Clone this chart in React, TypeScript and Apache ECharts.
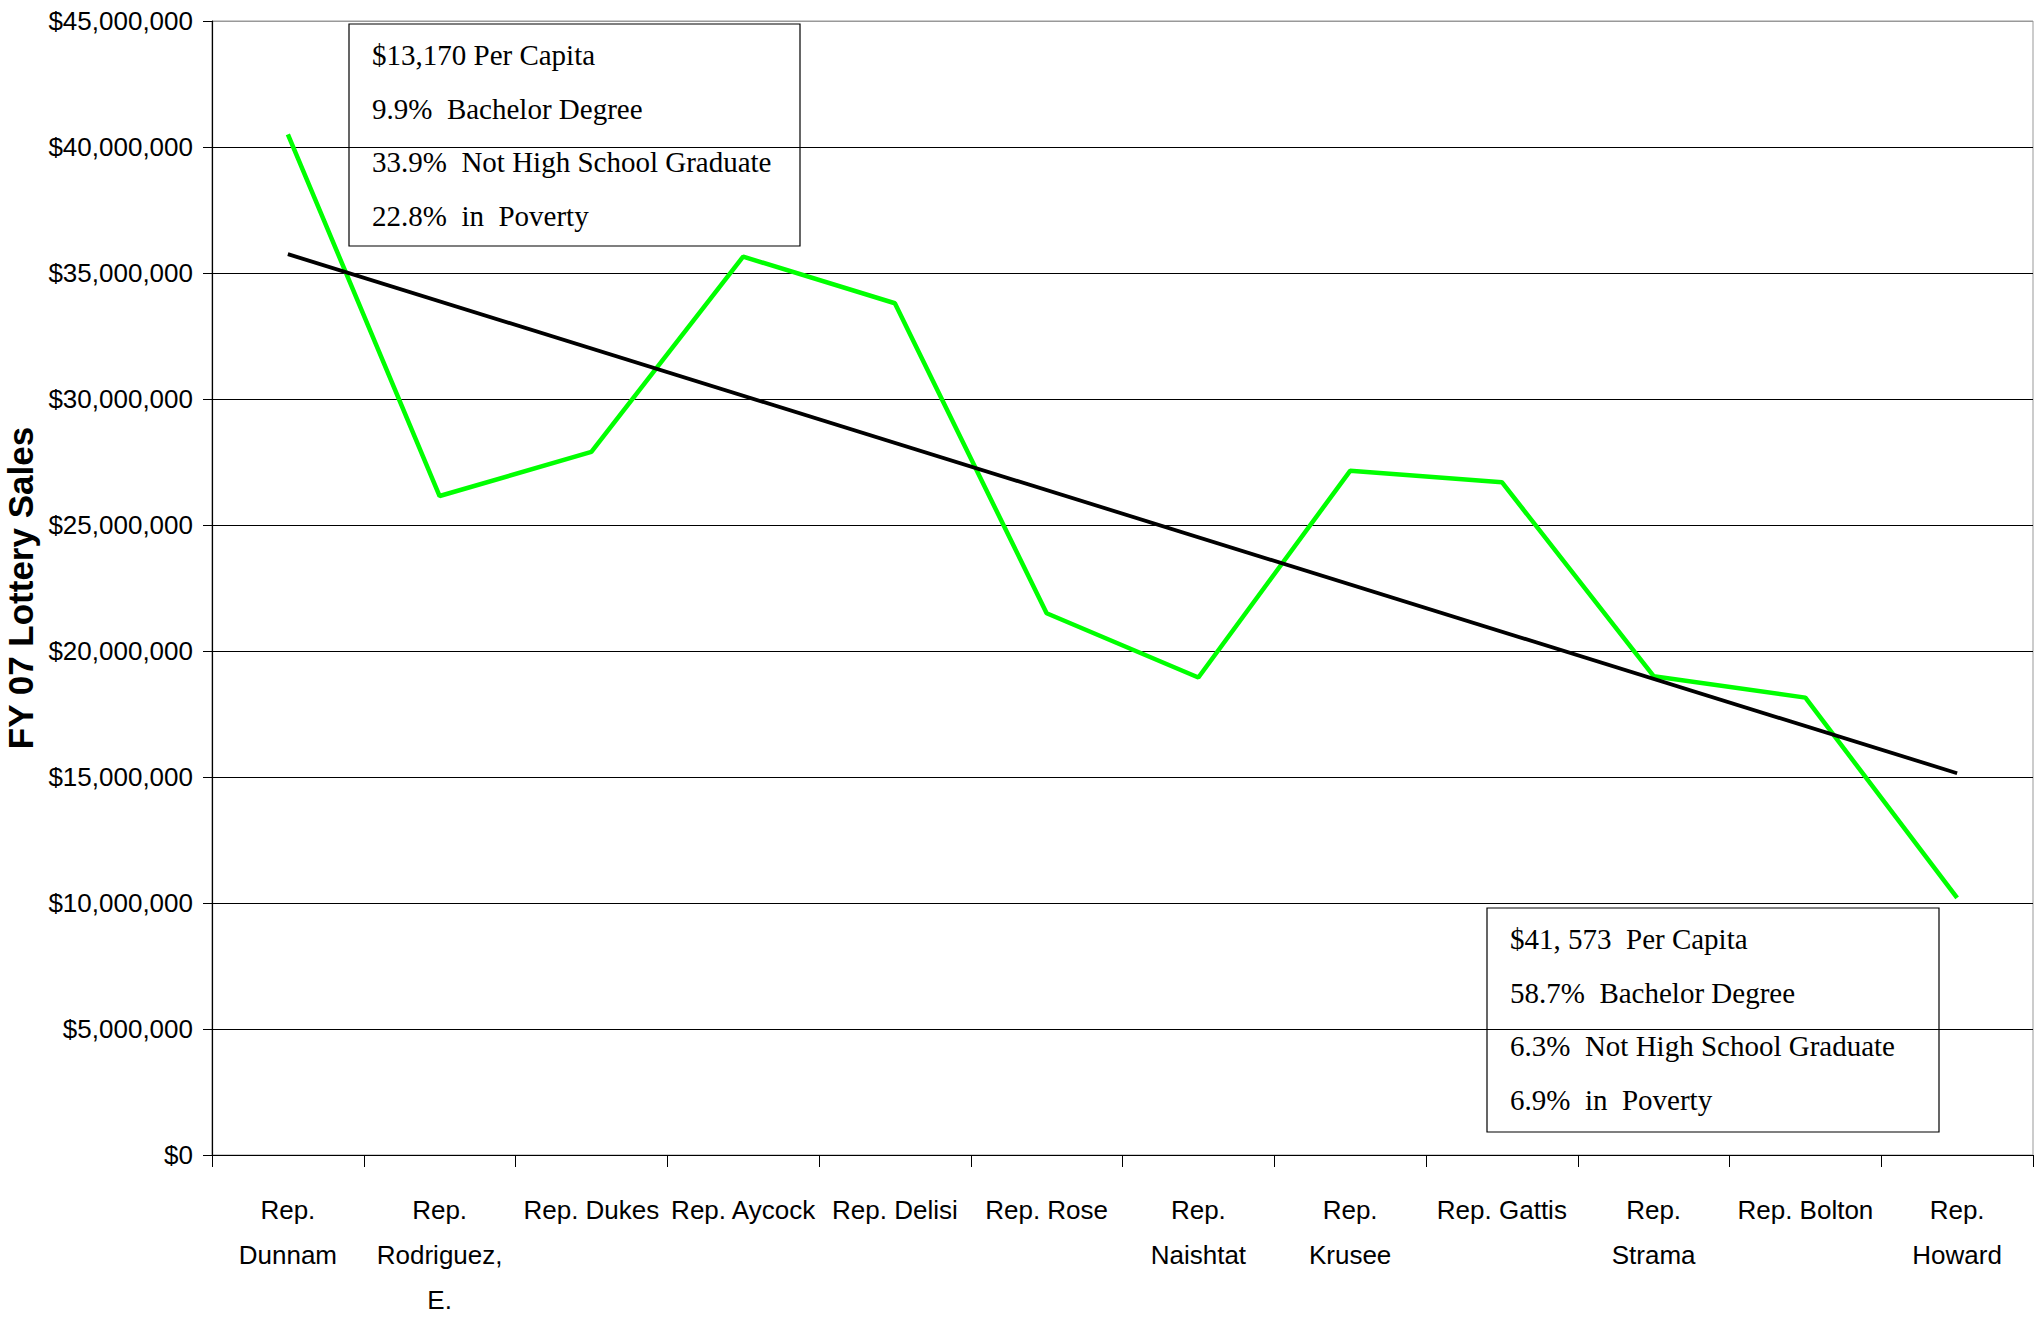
import React, { useEffect, useRef } from "react";
import * as echarts from "echarts";

const categories = [
  "Rep.\nDunnam",
  "Rep.\nRodriguez,\nE.",
  "Rep. Dukes",
  "Rep. Aycock",
  "Rep. Delisi",
  "Rep. Rose",
  "Rep.\nNaishtat",
  "Rep.\nKrusee",
  "Rep. Gattis",
  "Rep.\nStrama",
  "Rep. Bolton",
  "Rep.\nHoward",
];

const lotterySales = [
  40500000, 26150000, 27900000, 35650000, 33800000, 21500000, 18950000,
  27150000, 26700000, 19000000, 18150000, 10200000,
];

// linear trend line end points (first and last category)
const trendStart = 35750000;
const trendEnd = 15150000;

const yAxisTitle = "FY 07 Lottery Sales";

const topBoxLines = [
  "$13,170 Per Capita",
  "9.9%  Bachelor Degree",
  "33.9%  Not High School Graduate",
  "22.8%  in  Poverty",
];

const bottomBoxLines = [
  "$41, 573  Per Capita",
  "58.7%  Bachelor Degree",
  "6.3%  Not High School Graduate",
  "6.9%  in  Poverty",
];

const SANS = "'Liberation Sans', Arial, sans-serif";
const SERIF = "'Liberation Serif', 'Times New Roman', serif";

function makeBox(left: number, top: number, width: number, height: number, lines: string[]) {
  const children: any[] = [
    {
      type: "rect",
      shape: { x: 0, y: 0, width, height },
      style: { fill: "#fff", stroke: "#000", lineWidth: 1.2 },
    },
  ];
  lines.forEach((t, i) => {
    children.push({
      type: "text",
      x: 23,
      y: 31 + i * 53.5,
      style: {
        text: t,
        fill: "#000",
        font: `29px ${SERIF}`,
        textAlign: "left",
        textVerticalAlign: "middle",
      },
    });
  });
  return { type: "group", x: left, y: top, z: 100, children };
}

export default function App() {
  const ref = useRef<HTMLDivElement>(null);
  useEffect(() => {
    if (!ref.current) return;
    const chart = echarts.init(ref.current, null, { renderer: "svg" });
    const splitColors = Array.from({ length: 10 }, (_, i) => (i === 9 ? "#999" : "#000"));
    chart.setOption({
      animation: false,
      backgroundColor: "#fff",
      grid: {
        left: 212,
        right: 5,
        top: 21,
        bottom: 167,
        containLabel: false,
        outerBoundsMode: "none",
        show: true,
        borderColor: "#999",
        borderWidth: 1,
        backgroundColor: "transparent",
      },
      xAxis: {
        type: "category",
        data: categories,
        boundaryGap: true,
        axisLine: { show: true, lineStyle: { color: "#000", width: 1.2 } },
        axisTick: { show: true, length: 12, lineStyle: { color: "#000" } },
        axisLabel: {
          interval: 0,
          hideOverlap: false,
          color: "#000",
          fontFamily: SANS,
          fontSize: 26,
          lineHeight: 45,
          margin: 32,
        },
        splitLine: { show: false },
      },
      yAxis: {
        type: "value",
        min: 0,
        max: 45000000,
        interval: 5000000,
        name: yAxisTitle,
        nameLocation: "middle",
        nameGap: 170,
        nameRotate: 90,
        nameTextStyle: {
          color: "#000",
          fontFamily: SANS,
          fontWeight: "bold",
          fontSize: 35,
        },
        axisLine: { show: true, lineStyle: { color: "#000", width: 1.2 } },
        axisTick: { show: true, length: 9, lineStyle: { color: "#000" } },
        axisLabel: {
          color: "#000",
          fontFamily: SANS,
          fontSize: 26,
          margin: 19,
          formatter: (v: number) => "$" + v.toLocaleString("en-US"),
        },
        splitLine: { show: true, lineStyle: { color: splitColors, width: 1 } },
      },
      series: [
        {
          type: "line",
          data: lotterySales,
          symbol: "none",
          lineStyle: { color: "#00ff00", width: 4.5 },
          z: 3,
        },
        {
          type: "line",
          data: [
            [0, trendStart],
            [categories.length - 1, trendEnd],
          ],
          symbol: "none",
          lineStyle: { color: "#000", width: 3.8 },
          z: 4,
        },
      ],
      graphic: [
        makeBox(349, 24, 451, 222, topBoxLines),
        makeBox(1487, 908, 452, 224, bottomBoxLines),
      ],
    });
    return () => chart.dispose();
  }, []);
  return (
    <div
      ref={ref}
      style={{ position: "absolute", left: 0, top: 0, width: 2038, height: 1322 }}
    />
  );
}
